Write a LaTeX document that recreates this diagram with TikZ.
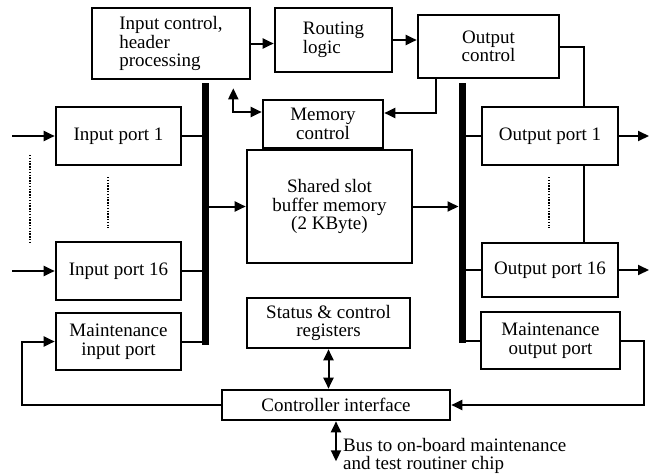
\documentclass[tikz,border=0pt]{standalone}
\usepackage{fontspec}
\setmainfont{Liberation Serif}
\usetikzlibrary{arrows.meta,positioning,calc}
\tikzset{
  box/.style={draw, line width=2.6pt, inner sep=0pt, align=center, font=\fontsize{19}{18.5}\selectfont},
  busbar/.style={line width=7pt},
  link/.style={line width=2pt},
  arr/.style={link, -{Triangle[length=11pt,width=10pt]}},
  biarr/.style={link, {Triangle[length=11pt,width=10pt]}-{Triangle[length=11pt,width=10pt]}},
  dotcol/.style={line width=2.6pt, dash pattern=on 1.4pt off 1.4pt},
  lbl/.style={font=\fontsize{19}{18.5}\selectfont, align=left, inner sep=0pt}
}

\begin{document}
\begin{tikzpicture}[x=1pt, y=-1pt]
  \useasboundingbox (0,0) rectangle (649,474);

  % top row
  \node[box, align=left, minimum width=158pt, minimum height=71pt] (inctl) at (171,43.5) {Input control,\\header\\processing};
  \node[box, align=left, minimum width=117pt, minimum height=64pt] (routing) at (333.5,40) {Routing\\logic};
  \node[box, minimum width=141pt, minimum height=63pt] (outctl) at (488.5,46.5) {Output\\control};

  % memory
  \node[box, minimum width=120pt, minimum height=48pt] (memctl) at (323,124) {Memory\\control};
  \node[box, minimum width=165pt, minimum height=113pt] (shared) at (329.5,206.5) {Shared slot\\buffer memory\\(2 KByte)};

  % input side
  \node[box, minimum width=125pt, minimum height=58pt] (in1) at (118.5,136) {Input port 1};
  \node[box, minimum width=125pt, minimum height=58pt] (in16) at (118.5,271) {Input port 16};
  \node[box, minimum width=125pt, minimum height=57pt] (minp) at (118.5,341.5) {Maintenance\\input port};

  % output side
  \node[box, minimum width=136pt, minimum height=58pt] (out1) at (550,136) {Output port 1};
  \node[box, minimum width=136pt, minimum height=54pt] (out16) at (550,270) {Output port 16};
  \node[box, minimum width=139pt, minimum height=57pt] (mout) at (550.5,340.5) {Maintenance\\output port};

  % maintenance
  \node[box, minimum width=163pt, minimum height=50pt] (status) at (328.5,323) {Status \& control\\registers};
  \node[box, minimum width=228pt, minimum height=30pt] (ctrlif) at (336,405) {Controller interface};
  \coordinate (chip) at ([yshift=-40pt]ctrlif.south);
  \node[lbl, anchor=west] (chiplbl) at (343,456) {Bus to on-board maintenance\\and test routiner chip};

  % bus bars
  \coordinate (lbusT) at (205.5,83);
  \coordinate (lbusB) at (205.5,345);
  \coordinate (rbusT) at (462,83);
  \coordinate (rbusB) at (462,343);
  \draw[busbar] (lbusT) -- (lbusB);
  \draw[busbar] (rbusT) -- (rbusB);

  % external links
  \coordinate (in1src) at (12,136);
  \coordinate (in16src) at (12,271);
  \coordinate (out1dst) at (649,136);
  \coordinate (out16dst) at (649,270);
  \draw[arr] (in1src) -- (in1.west);
  \draw[arr] (in16src) -- (in16.west);
  \draw[arr] (out1.east) -- (out1dst);
  \draw[arr] (out16.east) -- (out16dst);

  % ports to bus bars
  \draw[link] (in1.east) -- (in1.east -| lbusT);
  \draw[link] (in16.east) -- (in16.east -| lbusT);
  \draw[link] (minp.east) -- (minp.east -| lbusT);
  \draw[link] (out1.west) -- (out1.west -| rbusT);
  \draw[link] (out16.west) -- (out16.west -| rbusT);
  \draw[link] (mout.west) -- (mout.west -| rbusT);

  % control flow
  \draw[arr] (inctl.east) -- (inctl.east -| routing.west);
  \draw[arr] (routing.east) -- (routing.east -| outctl.west);
  \draw[biarr] ([xshift=-18pt,yshift=-8pt]inctl.south east) |- ([yshift=12pt]memctl.west);
  \draw[arr] ([xshift=19pt]outctl.south west) |- ([yshift=11pt]memctl.east);
  \draw[link] (outctl.east) -| ([xshift=-35pt]out1.north east);
  \draw[link] ([xshift=-35pt]out1.south east) -- ([xshift=-35pt]out16.north east);

  % data flow
  \draw[arr] (shared.west -| lbusT) -- (shared.west);
  \draw[arr, shorten >=3.5pt] (shared.east) -- (shared.east -| rbusT);

  % maintenance loop
  \draw[arr] (mout.east) -- ++(23,0) |- (ctrlif.east);
  \draw[arr] (ctrlif.west) -- ++(-199,0) |- (minp.west);
  \draw[biarr] (status.south) -- (status.south |- ctrlif.north);
  \draw[biarr] (ctrlif.south) -- (chip);

  % dotted columns
  \draw[dotcol] (30,155) -- (30,242);
  \draw[dotcol] (108,177) -- (108,228);
  \draw[dotcol] (549,177) -- (549,228);
\end{tikzpicture}
\end{document}
